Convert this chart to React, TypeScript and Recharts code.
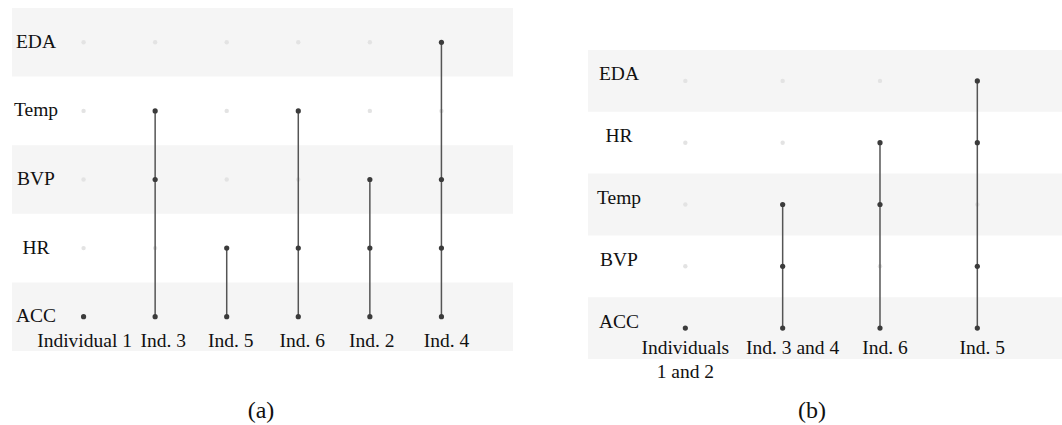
import React from 'react';
import { ScatterChart, Scatter, XAxis, YAxis, ReferenceArea } from 'recharts';

// (a) sensor combinations per individual, rows listed bottom to top
const rowsA = ['ACC', 'HR', 'BVP', 'Temp', 'EDA'];
const colsA = ['Individual 1', 'Ind. 3', 'Ind. 5', 'Ind. 6', 'Ind. 2', 'Ind. 4'];
const activeA = [
  ['ACC'],
  ['ACC', 'BVP', 'Temp'],
  ['ACC', 'HR'],
  ['ACC', 'HR', 'Temp'],
  ['ACC', 'HR', 'BVP'],
  ['ACC', 'HR', 'BVP', 'EDA'],
];

// (b) sensor combinations per group of individuals
const rowsB = ['ACC', 'BVP', 'Temp', 'HR', 'EDA'];
const colsB = ['Individuals\n1 and 2', 'Ind. 3 and 4', 'Ind. 6', 'Ind. 5'];
const activeB = [
  ['ACC'],
  ['ACC', 'BVP', 'Temp'],
  ['ACC', 'Temp', 'HR'],
  ['ACC', 'BVP', 'HR', 'EDA'],
];

const FONT = '"Liberation Serif", "DejaVu Serif", serif';
const DOT_ON = '#3b3b3b';
const DOT_OFF = '#e3e3e3';
const LINE = '#555555';
const BAND = '#f5f5f5';

type PanelProps = {
  rows: string[];
  cols: string[];
  active: string[][];
  width: number;
  height: number;
  margin: { top: number; right: number; bottom: number; left: number };
  xDomain: [number, number];
  rowDx: number;
  rowDy: number;
  colDy: number;
  colDx: number[];
  fontSize: number;
};

const Panel = ({ rows, cols, active, width, height, margin, xDomain, rowDx, rowDy, colDy, colDx, fontSize }: PanelProps) => {
  const onSets = active.map((set, ci) =>
    rows.map((r, ri) => ({ x: ci, y: ri, on: set.includes(r) })).filter((p) => p.on)
  );
  const off = active.flatMap((set, ci) =>
    rows.map((r, ri) => ({ x: ci, y: ri, on: set.includes(r) })).filter((p) => !p.on)
  );
  const txt = { fontFamily: FONT, fontSize, fill: '#111' };

  const rowTick = (p: any) => (
    <text x={p.x + rowDx} y={p.y + rowDy} textAnchor="middle" dominantBaseline="central" style={txt}>
      {rows[p.payload.value]}
    </text>
  );
  const colTick = (p: any) => {
    const i = p.payload.value;
    const lines = String(cols[i]).split('\n');
    const cx = p.x + (colDx[i] || 0);
    return (
      <text x={cx} y={p.y + colDy} textAnchor="middle" dominantBaseline="central" style={txt}>
        {lines.map((l, k) => (
          <tspan key={k} x={cx} dy={k === 0 ? 0 : 24}>{l}</tspan>
        ))}
      </text>
    );
  };

  return (
    <ScatterChart width={width} height={height} margin={margin}>
      {rows.map((r, ri) =>
        ri % 2 === 0 ? (
          <ReferenceArea key={r} y1={ri - 0.5} y2={ri + 0.5} fill={BAND} fillOpacity={1} stroke="none" ifOverflow="visible" />
        ) : null
      )}
      <XAxis type="number" dataKey="x" domain={xDomain} ticks={cols.map((_, i) => i)} interval={0}
        allowDataOverflow mirror axisLine={false} tickLine={false} tickSize={0} tickMargin={0} tick={colTick} />
      <YAxis type="number" dataKey="y" domain={[-0.5, rows.length - 0.5]} ticks={rows.map((_, i) => i)} interval={0}
        allowDataOverflow mirror axisLine={false} tickLine={false} tickSize={0} tickMargin={0} tick={rowTick} />
      <Scatter data={off} isAnimationActive={false}
        shape={(p: any) => <circle cx={p.cx} cy={p.cy} r={2.2} fill={DOT_OFF} />} />
      {onSets.map((pts, ci) => (
        <Scatter key={ci} data={pts} isAnimationActive={false} line={{ stroke: LINE, strokeWidth: 1.5 }} lineType="joint"
          shape={(p: any) => <circle cx={p.cx} cy={p.cy} r={2.6} fill={DOT_ON} />} />
      ))}
    </ScatterChart>
  );
};

const caption = { position: 'absolute' as const, top: 395, width: 100, textAlign: 'center' as const, fontFamily: FONT, fontSize: 24, lineHeight: '30px', color: '#111' };

export default function App() {
  return (
    <div style={{ position: 'absolute', left: 0, top: 0, width: 1062, height: 425, background: '#fff', overflow: 'hidden' }}>
      <div style={{ position: 'absolute', left: 0, top: 0 }}>
        <Panel rows={rowsA} cols={colsA} active={activeA} width={530} height={362}
          margin={{ top: 8, right: 17, bottom: 11, left: 12 }} xDomain={[-1, 6]}
          rowDx={24} rowDy={-1} colDy={-11} colDx={[1, 8, 4, 4, 2, 5]} fontSize={19.5} />
      </div>
      <div style={{ position: 'absolute', left: 540, top: 0 }}>
        <Panel rows={rowsB} cols={colsB} active={activeB} width={522} height={400}
          margin={{ top: 50, right: 0, bottom: 41, left: 48 }} xDomain={[-1, 3.87]}
          rowDx={31} rowDy={-7} colDy={-12} colDx={[0, 10, 5, 5]} fontSize={19.5} />
      </div>
      <div style={{ ...caption, left: 211 }}>(a)</div>
      <div style={{ ...caption, left: 762 }}>(b)</div>
    </div>
  );
}
